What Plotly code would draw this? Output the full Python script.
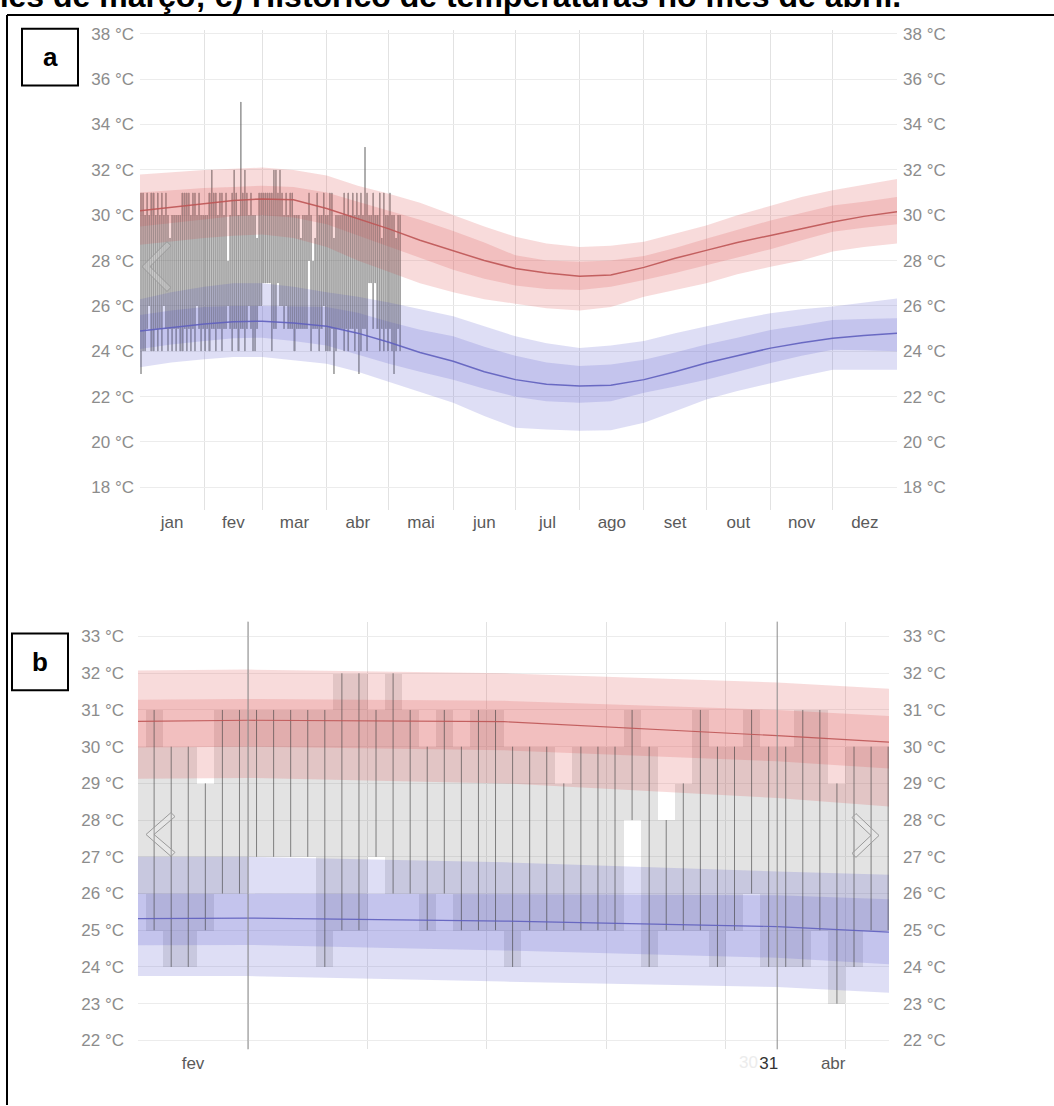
import plotly.graph_objects as go

W, H = 1054, 1106

# ---------------- climatology (day of year, 0 = 1 Jan) ----------------
clim_day = [0, 15, 31, 45, 59, 74, 90, 105, 120, 135, 151, 166, 181, 196, 212, 227, 243, 258, 273, 288, 304, 319, 334, 349, 365]
high_p90 = [31.8, 31.9, 32.0, 32.05, 32.1, 32.0, 31.75, 31.3, 30.95, 30.55, 30.0, 29.5, 29.05, 28.75, 28.6, 28.65, 28.83, 29.2, 29.55, 30.0, 30.43, 30.8, 31.1, 31.35, 31.6]
high_p75 = [31.0, 31.1, 31.2, 31.25, 31.3, 31.25, 31.0, 30.6, 30.2, 29.8, 29.3, 28.8, 28.23, 28.0, 27.95, 28.0, 28.2, 28.55, 28.96, 29.35, 29.77, 30.1, 30.43, 30.6, 30.8]
high_avg = [30.2, 30.35, 30.5, 30.65, 30.72, 30.68, 30.3, 29.85, 29.4, 28.9, 28.45, 28.0, 27.65, 27.45, 27.31, 27.36, 27.7, 28.1, 28.45, 28.8, 29.11, 29.4, 29.7, 29.95, 30.15]
high_p25 = [29.5, 29.65, 29.8, 29.95, 30.0, 29.9, 29.6, 29.1, 28.6, 28.1, 27.6, 27.2, 26.9, 26.75, 26.7, 26.85, 27.14, 27.45, 27.8, 28.15, 28.5, 28.9, 29.27, 29.45, 29.6]
high_p10 = [28.7, 28.85, 29.0, 29.1, 29.15, 29.0, 28.6, 28.0, 27.5, 27.0, 26.6, 26.3, 26.1, 25.9, 25.8, 25.95, 26.4, 26.7, 27.0, 27.4, 27.73, 28.0, 28.4, 28.6, 28.75]

low_p90 = [26.3, 26.6, 26.85, 27.0, 27.0, 26.85, 26.6, 26.4, 26.15, 25.85, 25.54, 25.1, 24.66, 24.35, 24.14, 24.25, 24.45, 24.8, 25.1, 25.4, 25.68, 25.85, 25.97, 26.15, 26.33]
low_p75 = [25.6, 25.8, 25.95, 26.0, 26.0, 25.98, 25.95, 25.7, 25.3, 24.95, 24.66, 24.2, 23.8, 23.5, 23.35, 23.42, 23.63, 23.95, 24.3, 24.6, 24.94, 25.15, 25.38, 25.42, 25.46]
low_avg = [24.9, 25.05, 25.2, 25.3, 25.33, 25.25, 25.1, 24.8, 24.4, 23.95, 23.56, 23.1, 22.75, 22.55, 22.47, 22.5, 22.75, 23.1, 23.48, 23.8, 24.14, 24.38, 24.58, 24.7, 24.8]
low_p25 = [24.1, 24.3, 24.45, 24.58, 24.6, 24.45, 24.25, 23.85, 23.45, 23.1, 22.75, 22.35, 22.0, 21.8, 21.73, 21.8, 22.17, 22.45, 22.75, 23.1, 23.48, 23.8, 24.07, 24.05, 24.0]
low_p10 = [23.3, 23.5, 23.65, 23.75, 23.75, 23.6, 23.45, 23.1, 22.65, 22.2, 21.73, 21.15, 20.63, 20.55, 20.5, 20.52, 20.85, 21.35, 21.87, 22.25, 22.6, 22.9, 23.19, 23.2, 23.19]

# ---------------- observed daily highs / lows (1 Jan .. 6 May) ----------------
obs_day = list(range(126))
obs_high = [31, 31, 30, 31, 30, 31, 31, 30, 31, 30, 31, 30, 31, 30, 29, 30, 30, 30, 30, 30,
            31, 31, 31, 31, 30, 31, 31, 30, 31, 30, 30, 30, 30, 31, 32, 31, 31, 30, 31, 31,
            30, 31, 28, 30, 31, 32, 31, 30, 35, 31, 32, 31,
            30, 31, 30, 30, 29, 31, 31, 31, 31, 31, 31, 31, 32, 32, 31, 32, 31, 30, 31, 30,
            31, 31, 30, 30, 30, 29, 30, 30, 30, 31, 30, 28, 29, 31, 30, 30, 31, 30, 30, 31,
            31, 29, 30, 30, 30,
            30, 31, 30, 31, 30, 31, 30, 31, 30, 31, 30, 33, 31, 30, 30, 31, 30, 30, 31, 29,
            31, 30, 30, 31, 30, 30, 29, 30, 30]
obs_low = [23, 24, 24, 25, 26, 24, 24, 25, 24, 25, 24, 26, 25, 24, 25, 24, 25, 24, 25, 24,
           24, 25, 24, 25, 24, 25, 24, 26, 25, 24, 25, 24, 25, 24, 25, 25, 24, 25, 25, 24,
           25, 25, 26, 25, 24, 25, 25, 24, 25, 25, 24, 25,
           26, 25, 24, 24, 25, 26, 26, 27, 27, 27, 27, 24, 25, 25, 27, 26, 26, 25, 26, 25,
           25, 25, 24, 25, 25, 25, 25, 25, 25, 28, 24, 25, 25, 25, 24, 25, 26, 24, 24, 24,
           25, 23, 24, 25, 25,
           25, 24, 25, 24, 25, 25, 24, 25, 23, 24, 25, 25, 24, 27, 27, 25, 27, 25, 24, 25,
           24, 25, 24, 25, 24, 23, 24, 25, 24]

months = ["jan", "fev", "mar", "abr", "mai", "jun", "jul", "ago", "set", "out", "nov", "dez"]
month_start = [0, 31, 59, 90, 120, 151, 181, 212, 243, 273, 304, 334, 365]
tempA_ticks = [18, 20, 22, 24, 26, 28, 30, 32, 34, 36, 38]
tempB_ticks = [22, 23, 24, 25, 26, 27, 28, 29, 30, 31, 32, 33]
week_lines_b = [59, 66, 73, 80, 87, 94]
month_lines_b = [59, 90]
labels_b = ["fev", "31", "abr"]

RED_BAND = "rgba(222,90,90,0.22)"
BLUE_BAND = "rgba(100,100,210,0.21)"
RED_LINE = "rgba(190,85,85,0.9)"
BLUE_LINE = "rgba(95,95,190,0.9)"

fig = go.Figure()


def band(xa, ya, upper, lower, color):
    fig.add_trace(go.Scatter(x=clim_day, y=upper, mode="lines", line=dict(width=0),
                             xaxis=xa, yaxis=ya, hoverinfo="skip", showlegend=False))
    fig.add_trace(go.Scatter(x=clim_day, y=lower, mode="lines", line=dict(width=0),
                             fill="tonexty", fillcolor=color,
                             xaxis=xa, yaxis=ya, hoverinfo="skip", showlegend=False))


def panel(xa, ya, lw_avg, bar_fill, line_color):
    band(xa, ya, high_p90, high_p10, RED_BAND)
    band(xa, ya, high_p75, high_p25, RED_BAND)
    band(xa, ya, low_p90, low_p10, BLUE_BAND)
    band(xa, ya, low_p75, low_p25, BLUE_BAND)
    centers = [d + 0.5 for d in obs_day]
    fig.add_trace(go.Bar(x=centers, y=[h - l for h, l in zip(obs_high, obs_low)], base=obs_low,
                         width=1.0, marker=dict(color=bar_fill, line=dict(width=0)),
                         xaxis=xa, yaxis=ya, hoverinfo="skip", showlegend=False))
    lx, ly = [], []
    for c, h, l in zip(centers, obs_high, obs_low):
        lx += [c, c, None]
        ly += [l, h, None]
    fig.add_trace(go.Scatter(x=lx, y=ly, mode="lines",
                             line=dict(color=line_color, width=1),
                             xaxis=xa, yaxis=ya, hoverinfo="skip", showlegend=False))
    fig.add_trace(go.Scatter(x=clim_day, y=high_avg, mode="lines",
                             line=dict(color=RED_LINE, width=lw_avg),
                             xaxis=xa, yaxis=ya, hoverinfo="skip", showlegend=False))
    fig.add_trace(go.Scatter(x=clim_day, y=low_avg, mode="lines",
                             line=dict(color=BLUE_LINE, width=lw_avg),
                             xaxis=xa, yaxis=ya, hoverinfo="skip", showlegend=False))


panel("x", "y", 1.5, "rgba(95,95,95,0.38)", "rgba(70,70,70,0.3)")
panel("x2", "y2", 1.2, "rgba(90,90,90,0.17)", "rgba(60,60,60,0.6)")

# invisible traces for the right-hand axes
fig.add_trace(go.Scatter(x=clim_day, y=high_avg, mode="lines", line=dict(width=0), opacity=0,
                         xaxis="x", yaxis="y3", hoverinfo="skip", showlegend=False))
fig.add_trace(go.Scatter(x=clim_day, y=high_avg, mode="lines", line=dict(width=0), opacity=0,
                         xaxis="x2", yaxis="y4", hoverinfo="skip", showlegend=False))

TICK_FONT = dict(family="Liberation Sans, Arial, sans-serif", size=17, color="#8c8c8c")
XTICK_FONT = dict(family="Liberation Sans, Arial, sans-serif", size=17, color="#5a5a5a")

ya_range = [16.99, 38.175]
yb_range = [21.756, 33.406]
month_mid = [(a + b) / 2 for a, b in zip(month_start[:-1], month_start[1:])]

fig.update_layout(
    width=W, height=H, autosize=False,
    margin=dict(l=0, r=0, t=0, b=0, pad=0),
    paper_bgcolor="white", plot_bgcolor="white",
    showlegend=False, hovermode=False, barmode="overlay", bargap=0,
    xaxis=dict(domain=[140 / W, 897 / W], range=[0, 365], anchor="y",
               tickmode="array", tickvals=month_mid, ticktext=months, ticks="",
               showgrid=False, zeroline=False, showline=False, tickfont=XTICK_FONT,
               ticklabelstandoff=0,
               minor=dict(tickmode="array", tickvals=month_start[1:-1], showgrid=True,
                          gridcolor="#e2e2e2", gridwidth=1, ticks="")),
    yaxis=dict(domain=[1 - 508 / H, 1 - 25 / H], range=ya_range, anchor="x",
               tickmode="array", tickvals=tempA_ticks, ticktext=[f"{t} °C" for t in tempA_ticks],
               ticks="", showgrid=True, gridcolor="#ececec", zeroline=False, showline=False,
               tickfont=TICK_FONT, ticklabelstandoff=5),
    yaxis3=dict(overlaying="y", side="right", anchor="x", range=ya_range,
                tickmode="array", tickvals=tempA_ticks, ticktext=[f"{t} °C" for t in tempA_ticks],
                ticks="", showgrid=False, zeroline=False, showline=False,
                tickfont=TICK_FONT, ticklabelstandoff=5),
    xaxis2=dict(domain=[138 / W, 889 / W], range=[52.556, 96.55], anchor="y2",
                tickmode="array", tickvals=[55.78, 89.5, 93.28],
                ticktext=[labels_b[0], f'<span style="color:#333">{labels_b[1]}</span>', labels_b[2]],
                ticks="", showgrid=False, zeroline=False, showline=False, tickfont=XTICK_FONT,
                ticklabelstandoff=2,
                minor=dict(tickmode="array", tickvals=week_lines_b, showgrid=True,
                           gridcolor="#e2e2e2", gridwidth=1, ticks="")),
    yaxis2=dict(domain=[1 - 1050 / H, 1 - 620 / H], range=yb_range, anchor="x2",
                tickmode="array", tickvals=tempB_ticks, ticktext=[f"{t} °C" for t in tempB_ticks],
                ticks="", showgrid=True, gridcolor="#ececec", zeroline=False, showline=False,
                tickfont=TICK_FONT, ticklabelstandoff=13),
    yaxis4=dict(overlaying="y2", side="right", anchor="x2", range=yb_range,
                tickmode="array", tickvals=tempB_ticks, ticktext=[f"{t} °C" for t in tempB_ticks],
                ticks="", showgrid=False, zeroline=False, showline=False,
                tickfont=TICK_FONT, ticklabelstandoff=13),
)

# darker month boundaries in panel b
for m in month_lines_b:
    fig.add_shape(type="line", xref="x2", yref="y2 domain", x0=m, x1=m, y0=0, y1=1,
                  line=dict(color="#8a8a8a", width=1), layer="above")


def px(xp, yp):
    return f"{xp / W:.5f},{1 - yp / H:.5f}"


def chevron(pts):
    path = "M " + " L ".join(px(a, b) for a, b in pts) + " Z"
    fig.add_shape(type="path", xref="paper", yref="paper", path=path,
                  line=dict(color="#9a9a9a", width=1), fillcolor="rgba(255,255,255,0.15)",
                  layer="above")


chevron([(167, 238), (142, 263), (167, 288), (171, 284), (150, 263), (171, 242)])
chevron([(171, 812), (146, 834), (171, 856), (175, 852), (154, 834), (175, 816)])
chevron([(856, 813), (879, 835), (856, 857), (852, 853), (871, 835), (852, 817)])

# frame lines
fig.add_shape(type="line", xref="paper", yref="paper", x0=7 / W, x1=1.0, y0=1 - 10 / H, y1=1 - 10 / H,
              line=dict(color="black", width=2), layer="above")
fig.add_shape(type="line", xref="paper", yref="paper", x0=7 / W, x1=7 / W, y0=1 - 10 / H, y1=0,
              line=dict(color="black", width=2), layer="above")

# label boxes
for (x0, y0, x1, y1, t) in [(22, 24, 78, 81, "a"), (12, 632, 68, 689, "b")]:
    fig.add_shape(type="rect", xref="paper", yref="paper", x0=x0 / W, x1=x1 / W,
                  y0=1 - y1 / H, y1=1 - y0 / H, line=dict(color="black", width=2),
                  fillcolor="white", layer="above")
    fig.add_annotation(x=(x0 + x1) / 2 / W, y=1 - (y0 + y1) / 2 / H, xref="paper", yref="paper",
                       text=f"<b>{t}</b>", showarrow=False, xanchor="center", yanchor="middle",
                       font=dict(family="Liberation Sans, Arial, sans-serif", size=26, color="black"))

# cut-off caption line at the very top (the reference shows only its lower half)
fig.add_annotation(x=-22 / W, y=1 - 11 / H, xref="paper", yref="paper", xanchor="left", yanchor="bottom",
                   text="<b>mês de março; c) Histórico de temperaturas no mês de abril.</b>",
                   showarrow=False,
                   font=dict(family="Liberation Sans, Arial, sans-serif", size=32, color="black"))

# faint overlapped day label in panel b
fig.add_annotation(x=88.3, y=0, xref="x2", yref="y2 domain", yanchor="top", yshift=-2,
                   text="30", showarrow=False,
                   font=dict(family="Liberation Sans, Arial, sans-serif", size=17, color="#ececec"))

fig.write_html("out.html", config={"displayModeBar": False},
               post_script="document.body.style.margin='0';")
